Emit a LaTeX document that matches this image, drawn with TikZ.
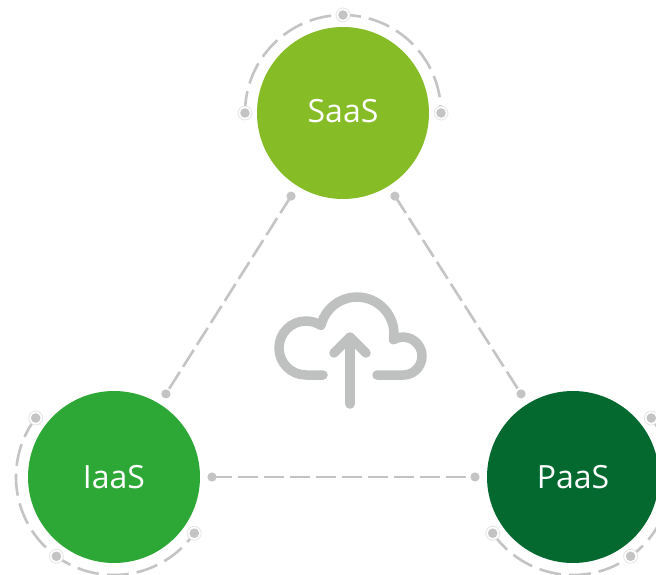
\documentclass[tikz,border=0pt]{standalone}
\usepackage{fontspec}
\setmainfont{Open Sans}
\usetikzlibrary{calc}
\definecolor{saasg}{HTML}{86BC25}
\definecolor{iaasg}{HTML}{2DA836}
\definecolor{paasg}{HTML}{03692F}
\definecolor{lgray}{HTML}{C4C4C4}
\definecolor{cgray}{HTML}{BFC0C0}
\begin{document}
\begin{tikzpicture}[x=1pt,y=1pt,
  svc/.style={circle, inner sep=0pt, outer sep=0pt, minimum size=172pt, text=white,
              font=\fontsize{32}{36}\selectfont},
  ring/.style={circle, inner sep=0pt, outer sep=0pt, minimum size=196pt},
  arcline/.style={draw=lgray, line width=2.6pt, dash pattern=on 22pt off 8pt},
  link/.style={draw=lgray, line width=2.6pt, dash pattern=on 20pt off 6pt},
  icon/.style={draw=cgray, line width=9.5pt, line cap=round, line join=round}
]
\useasboundingbox (0,0) rectangle (656,-575);
\clip (0,0) rectangle (656,-575);

% guide rings (invisible)
\node[ring] (sr) at (343,-113) {};
\node[ring] (ir) at (114,-477) {};
\node[ring] (pr) at (573,-477) {};

% dashed arcs
\draw[arcline] (sr.180) arc[start angle=180, end angle=0, radius=98];
\draw[arcline] (ir.143) arc[start angle=143, end angle=325, radius=98];
\draw[arcline] (pr.215) arc[start angle=215, end angle=397, radius=98];

% connectors
\draw[link] (sr.238) -- (ir.58);
\draw[link] (sr.302) -- (pr.122);
\draw[link] (ir.0) -- (pr.180);

% connector end dots
\foreach \p in {sr.238, ir.58, sr.302, pr.122, ir.0, pr.180}
  \fill[lgray] (\p) circle[radius=4.6];

% arc dots with halo
\foreach \p in {sr.0, sr.90, sr.180, ir.143, ir.234, ir.325, pr.215, pr.306, pr.37}{
  \filldraw[fill=white, draw=lgray!45, line width=0.8pt] (\p) circle[radius=7];
  \fill[lgray] (\p) circle[radius=4.8];
}

% service circles
\node[svc, fill=saasg] (saas) at (343,-113) {\raisebox{4pt}{SaaS}};
\node[svc, fill=iaasg] (iaas) at (114,-477) {\raisebox{-3pt}{IaaS}};
\node[svc, fill=paasg] (paas) at (573,-477) {\raisebox{-3pt}{PaaS}};

% cloud upload icon
\draw[icon] (323,-375) -- (306,-375)
  arc[start angle=270, end angle=56.3, radius=27]
  arc[start angle=166.7, end angle=-8.7, radius=37]
  arc[start angle=119.8, end angle=-90, radius=19]
  -- (377,-375);
\draw[icon] (350,-404) -- (350,-339);
\draw[icon] (334,-353) -- (350,-337) -- (366,-353);
\end{tikzpicture}
\end{document}
